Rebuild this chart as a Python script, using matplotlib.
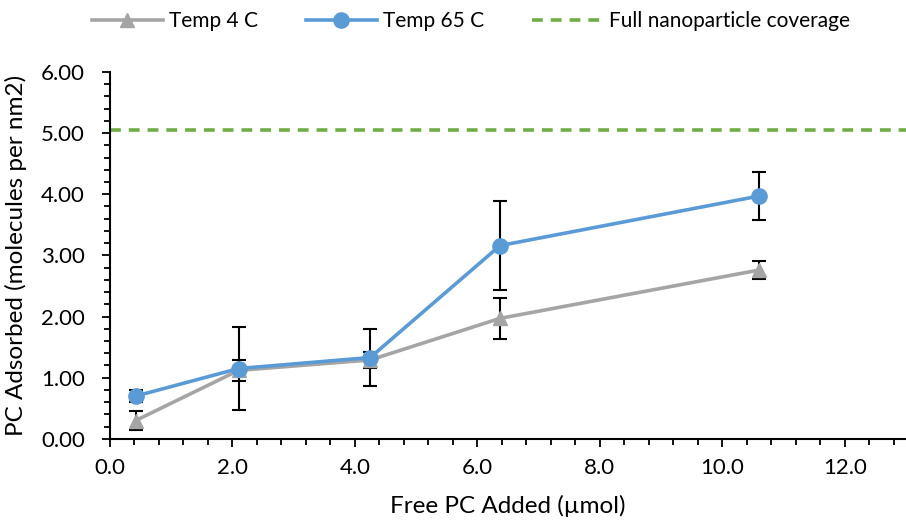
import numpy as np
import matplotlib.pyplot as plt
from matplotlib.ticker import MultipleLocator, FormatStrFormatter

plt.rcParams['font.family'] = ['Lato', 'DejaVu Sans']

x = [0.42, 2.1, 4.25, 6.37, 10.6]
t4 = [0.30, 1.12, 1.29, 1.97, 2.76]
t4_err = [0.15, 0.17, 0.13, 0.33, 0.15]
t65 = [0.70, 1.15, 1.33, 3.16, 3.97]
t65_err = [0.10, 0.68, 0.47, 0.73, 0.39]
full_cov = 5.05

fig = plt.figure(figsize=(9.06, 5.2), dpi=100)
ax = fig.add_axes([0.1214, 0.156, 0.8786, 0.7058])

ax.errorbar(x, t4, yerr=t4_err, fmt='none', ecolor='black', elinewidth=1.5, capsize=5, capthick=1.5, zorder=2)
ax.errorbar(x, t65, yerr=t65_err, fmt='none', ecolor='black', elinewidth=1.5, capsize=5, capthick=1.5, zorder=2)
ax.plot(x, t4, color='#A5A5A5', lw=2.6, marker='^', ms=10, label='Temp 4 C', zorder=3)
ax.plot(x, t65, color='#5B9BD5', lw=2.6, marker='o', ms=11, label='Temp 65 C', zorder=4)
ax.axhline(full_cov, color='#70AD47', lw=2.6, ls=(0, (3, 2.2)), label='Full nanoparticle coverage', zorder=1)

ax.set_xlim(0, 13)
ax.set_ylim(0, 6)
ax.xaxis.set_major_locator(MultipleLocator(2))
ax.xaxis.set_minor_locator(MultipleLocator(0.4))
ax.yaxis.set_major_locator(MultipleLocator(1))
ax.yaxis.set_minor_locator(MultipleLocator(0.2))
ax.xaxis.set_major_formatter(FormatStrFormatter('%.1f'))
ax.yaxis.set_major_formatter(FormatStrFormatter('%.2f'))
ax.tick_params(which='major', direction='out', length=6, width=1.3, labelsize=16, colors='black')
ax.tick_params(which='minor', direction='out', length=4, width=1.3)
ax.tick_params(axis='y', which='major', pad=12)
ax.tick_params(axis='x', which='major', pad=8)
for s in ['top', 'right']:
    ax.spines[s].set_visible(False)
for s in ['left', 'bottom']:
    ax.spines[s].set_linewidth(1.5)

ax.set_xlabel('Free PC Added (µmol)', fontsize=17.5, labelpad=12)
ax.set_ylabel('PC Adsorbed (molecules per nm2)', fontsize=17.5, labelpad=10)

fig.legend(loc='upper center', bbox_to_anchor=(0.52, 1.015), ncol=3, frameon=False, fontsize=15,
           handlelength=3.4, columnspacing=2.3, handletextpad=0.3)

fig.savefig('out.png', dpi=100)
